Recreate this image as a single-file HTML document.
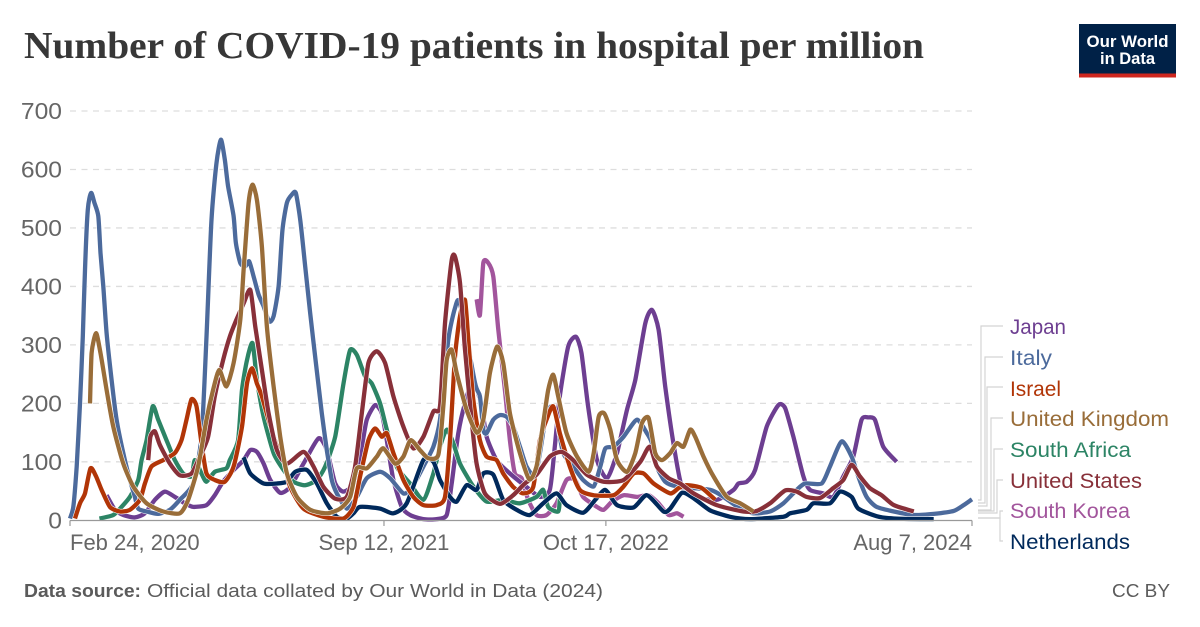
<!DOCTYPE html>
<html lang="en">
<head>
<meta charset="utf-8">
<title>Number of COVID-19 patients in hospital per million</title>
<style>
html,body{margin:0;padding:0;background:#fff;}
svg{display:block;}
text{font-family:"Liberation Sans",sans-serif;}
</style>
</head>
<body>
<svg id="chart" xmlns="http://www.w3.org/2000/svg" width="1200" height="627" viewBox="0 0 1200 627">
  <rect x="0" y="0" width="1200" height="627" fill="#fff"/>
  <text x="24" y="58" font-size="38" font-weight="700" fill="#373737" style="font-family:'Liberation Serif',serif" textLength="900" lengthAdjust="spacingAndGlyphs">Number of COVID-19 patients in hospital per million</text>
  <g>
    <rect x="1079" y="24" width="97" height="53.5" fill="#002147"/>
    <rect x="1079" y="73.5" width="97" height="4" fill="#ce261e"/>
    <text x="1127.5" y="47" text-anchor="middle" font-size="17" font-weight="700" fill="#fff" textLength="82" lengthAdjust="spacingAndGlyphs">Our World</text>
    <text x="1127.5" y="64" text-anchor="middle" font-size="17" font-weight="700" fill="#fff" textLength="55" lengthAdjust="spacingAndGlyphs">in Data</text>
  </g>
  <g id="grid"></g>
  <g id="yticks"></g>
  <g id="series"></g>
  <g id="xaxis"></g>
  <g fill="none" stroke="#d4d4d4" stroke-width="1.2">
    <path d="M1003 326H981V500H978"/>
    <path d="M1003 357H985V503H978"/>
    <path d="M1003 387H987V506H978"/>
    <path d="M1003 418H991V510H978"/>
    <path d="M1003 449H994V511H978"/>
    <path d="M1003 480H997V513H978"/>
    <path d="M1003 511H1000V518H978"/>
    <path d="M1003 541H1000V518H978"/>
  </g>
  <g font-size="21.5">
    <text x="1010" y="334" fill="#6D3E91" textLength="56" lengthAdjust="spacingAndGlyphs">Japan</text>
    <text x="1010" y="365" fill="#4C6A9C" textLength="42" lengthAdjust="spacingAndGlyphs">Italy</text>
    <text x="1010" y="396" fill="#B13507" textLength="51" lengthAdjust="spacingAndGlyphs">Israel</text>
    <text x="1010" y="426" fill="#996D39" textLength="159" lengthAdjust="spacingAndGlyphs">United Kingdom</text>
    <text x="1010" y="457" fill="#2C8465" textLength="121" lengthAdjust="spacingAndGlyphs">South Africa</text>
    <text x="1010" y="488" fill="#883039" textLength="132" lengthAdjust="spacingAndGlyphs">United States</text>
    <text x="1010" y="518" fill="#A2559C" textLength="120" lengthAdjust="spacingAndGlyphs">South Korea</text>
    <text x="1010" y="549" fill="#00295B" textLength="120" lengthAdjust="spacingAndGlyphs">Netherlands</text>
  </g>
  <text x="24" y="597" font-size="18.5" font-weight="700" fill="#5b5b5b" textLength="117" lengthAdjust="spacingAndGlyphs">Data source:</text>
  <text x="147" y="597" font-size="18.5" fill="#5b5b5b" textLength="456" lengthAdjust="spacingAndGlyphs">Official data collated by Our World in Data (2024)</text>
  <text x="1170" y="597" font-size="18.5" fill="#5b5b5b" text-anchor="end" textLength="58" lengthAdjust="spacingAndGlyphs">CC BY</text>
</svg>
<script>
// Days since Feb 24, 2020 and patients in hospital per million.
const yTicks = [0,100,200,300,400,500,600,700];
const xTickDays = [0,566,966,1626];
const xTickLabels = ["Feb 24, 2020","Sep 12, 2021","Oct 17, 2022","Aug 7, 2024"];

const southKoreaDays = [733,739,745,754,763,772,784,793,802,814,826,841,859,877,895,911,925,950,962,977,998,1022,1043,1061,1079,1094,1106];
const southKoreaValues = [378,351,440,440,417,326,223,137,80,72,35,9,9,29,69,69,40,23,18,32,43,40,43,29,9,12,6];

const japanDays = [66,81,96,117,135,153,171,189,207,222,246,261,276,295,313,325,337,349,361,379,397,421,448,463,478,493,511,526,535,550,562,571,583,598,613,637,661,679,688,700,712,727,742,751,769,793,823,847,865,874,883,898,912,922,934,950,968,986,1004,1019,1037,1049,1061,1073,1088,1103,1124,1166,1196,1205,1220,1235,1256,1277,1289,1304,1322,1334,1358,1376,1394,1412,1427,1439,1451,1466,1490];
const japanValues = [43,18,9,5,12,35,49,40,29,23,26,43,66,86,103,120,117,97,69,47,57,97,140,120,63,49,63,126,172,197,183,137,69,23,9,2,2,9,63,149,200,240,195,143,103,80,57,40,52,126,212,297,314,286,195,103,72,115,189,240,337,360,326,229,130,57,40,35,52,63,66,86,160,197,192,143,75,52,46,40,75,109,172,176,172,126,100];

const southAfricaDays = [53,78,93,108,123,129,138,149,159,174,189,204,219,225,237,246,261,282,288,303,310,319,329,337,349,367,385,403,424,445,460,478,493,505,517,532,544,559,571,589,613,637,655,667,679,691,703,727,751,781,811,841,853,862,880,883];
const southAfricaValues = [3,9,23,40,69,103,137,195,172,137,103,80,75,103,80,66,83,89,103,137,223,274,303,240,177,115,86,66,60,69,92,143,234,291,283,246,234,200,155,92,63,35,80,126,155,132,97,58,32,35,29,40,52,23,15,40];

const italyDays = [0,6,12,18,23,27,32,38,44,51,55,60,66,75,84,96,108,117,123,138,159,180,198,222,237,246,255,264,272,279,285,295,299,307,316,323,331,340,349,359,367,376,383,391,400,407,415,424,433,444,454,463,472,481,499,517,535,559,577,601,616,637,655,667,682,694,703,730,739,745,751,763,775,787,799,811,823,838,847,859,871,880,889,907,925,944,956,965,980,998,1022,1040,1049,1058,1073,1094,1154,1178,1208,1232,1262,1286,1310,1325,1355,1370,1391,1409,1421,1436,1454,1485,1521,1557,1593,1611,1626];
const italyValues = [3,23,92,200,314,428,531,560,543,520,457,400,320,240,172,115,69,40,20,15,11,18,35,63,143,314,514,611,651,617,571,520,474,440,434,443,417,386,366,340,349,400,497,543,557,560,514,434,354,263,183,120,69,46,20,40,72,83,72,46,55,92,126,172,309,363,371,235,212,155,149,172,180,177,160,126,92,75,115,183,195,160,115,92,69,58,92,123,126,143,172,149,132,92,66,58,52,40,20,12,15,29,52,63,63,92,135,109,75,40,23,15,9,11,16,26,36];

const netherlandsDays = [313,325,349,373,391,406,427,445,463,481,499,511,523,559,583,607,637,655,667,685,697,715,733,745,763,781,805,829,853,877,895,925,947,965,986,1016,1040,1070,1082,1103,1124,1154,1190,1226,1286,1298,1328,1340,1370,1388,1409,1421,1454,1485,1557];
const netherlandsValues = [108,80,63,63,66,83,86,63,29,6,3,12,23,20,12,29,103,100,69,40,32,60,52,80,78,35,18,9,29,46,26,13,35,52,26,22,43,15,20,47,38,17,6,2,6,12,18,29,29,49,40,20,7,3,2];

const israelDays = [9,18,27,37,47,57,72,90,108,126,135,147,168,189,201,210,219,228,237,246,261,279,295,310,319,328,337,346,358,373,385,397,421,457,493,511,523,538,550,562,571,583,601,619,637,661,676,685,694,703,712,718,727,739,751,769,781,799,817,835,847,859,871,883,901,919,944,980,998,1016,1034,1052,1082,1097,1112,1139,1163];
const israelValues = [3,29,46,89,75,52,23,15,18,35,63,92,103,115,137,172,207,195,132,80,69,66,92,160,234,260,234,212,172,126,103,57,20,6,3,23,75,137,157,143,149,115,69,40,26,26,40,137,280,349,377,309,206,137,109,103,80,57,46,57,137,172,195,149,92,52,43,43,58,80,80,63,46,55,60,55,35];

const unitedStatesDays = [141,145,153,162,180,198,219,234,249,261,276,288,300,313,325,334,346,358,373,391,421,439,457,478,499,514,526,538,553,568,583,601,619,637,655,667,676,688,694,703,712,724,733,748,775,799,820,841,865,886,907,932,962,998,1028,1045,1058,1079,1100,1124,1166,1214,1238,1262,1289,1310,1328,1352,1376,1394,1409,1424,1442,1463,1485,1521];
const unitedStatesValues = [103,143,152,129,97,77,80,109,143,212,274,314,343,371,394,331,257,183,120,97,117,92,57,37,40,92,183,269,289,269,212,160,123,143,186,195,337,445,451,406,292,172,97,46,28,43,63,78,109,117,103,78,66,69,100,126,92,72,63,46,26,15,16,29,51,49,40,38,55,69,95,75,55,43,26,15];

const unitedKingdomDays = [36,39,47,55,66,78,96,114,138,168,198,213,231,246,258,269,282,295,307,313,322,329,337,346,355,367,379,391,409,433,463,487,505,517,535,553,565,586,601,614,631,646,664,673,679,688,697,715,733,745,757,770,781,793,811,828,841,853,862,871,880,895,914,935,944,953,963,974,986,1004,1019,1031,1043,1055,1067,1082,1094,1106,1118,1127,1142,1160,1184,1208,1232];
const unitedKingdomValues = [200,286,320,286,223,160,97,58,29,15,12,35,92,172,223,257,229,269,343,428,543,574,548,468,331,229,143,80,40,18,12,20,40,89,89,109,123,97,109,137,120,106,112,195,274,292,252,189,150,172,252,297,269,183,115,70,92,166,223,249,212,149,109,83,115,177,183,155,103,83,115,166,175,115,103,115,132,126,155,143,109,75,40,29,15];

const seriesNames = ["south-korea","japan","south-africa","italy","netherlands","israel","united-states","united-kingdom"];
const seriesColors = ["#A2559C","#6D3E91","#2C8465","#4C6A9C","#00295B","#B13507","#883039","#996D39"];
const seriesDays = [southKoreaDays,japanDays,southAfricaDays,italyDays,netherlandsDays,israelDays,unitedStatesDays,unitedKingdomDays];
const seriesValues = [southKoreaValues,japanValues,southAfricaValues,italyValues,netherlandsValues,israelValues,unitedStatesValues,unitedKingdomValues];

const NS = "http://www.w3.org/2000/svg";
const xScale = d => 70 + d * (902 / 1626);
const yScale = v => 520.3 - v * (409.3 / 700);

// Smooth path through the mapped points (Catmull-Rom to Bezier, gentle tension).
function smoothPath(days, values) {
  const pts = days.map(function (day, j) {
    return [xScale(day), yScale(values[j])];
  });
  const clampY = y => Math.min(y, 520.3);
  let d = "M" + pts[0][0].toFixed(1) + " " + pts[0][1].toFixed(1);
  for (let i = 0; i < pts.length - 1; i++) {
    const p0 = pts[Math.max(i - 1, 0)];
    const p1 = pts[i];
    const p2 = pts[i + 1];
    const p3 = pts[Math.min(i + 2, pts.length - 1)];
    const c1x = p1[0] + (p2[0] - p0[0]) / 9;
    const c1y = clampY(p1[1] + (p2[1] - p0[1]) / 9);
    const c2x = p2[0] - (p3[0] - p1[0]) / 9;
    const c2y = clampY(p2[1] - (p3[1] - p1[1]) / 9);
    d += "C" + c1x.toFixed(1) + " " + c1y.toFixed(1) + " " + c2x.toFixed(1) + " " + c2y.toFixed(1) + " " + p2[0].toFixed(1) + " " + p2[1].toFixed(1);
  }
  return d;
}

const gridG = document.getElementById("grid");
const yG = document.getElementById("yticks");
yTicks.forEach(function (t) {
  const y = yScale(t);
  if (t > 0) {
    const l = document.createElementNS(NS, "line");
    
    
    l.setAttribute("x1", 70);
    l.setAttribute("x2", 972);
    l.setAttribute("y1", y);
    l.setAttribute("y2", y);
    l.setAttribute("stroke", "#dddddd");
    l.setAttribute("stroke-width", "1.3");
    l.setAttribute("stroke-dasharray", "6,5.5");
    gridG.appendChild(l);
  }
  const txt = document.createElementNS(NS, "text");
  
  
  txt.setAttribute("x", 62);
  txt.setAttribute("y", y + 8);
  txt.setAttribute("text-anchor", "end");
  txt.setAttribute("font-size", "23");
  txt.setAttribute("fill", "#666");
  txt.textContent = t;
  yG.appendChild(txt);
  txt.setAttribute("textLength", String(t).length * 13.7);
  txt.setAttribute("lengthAdjust", "spacingAndGlyphs");
});

const seriesG = document.getElementById("series");
seriesNames.forEach(function (name, i) {
  const d = smoothPath(seriesDays[i], seriesValues[i]);
  const halo = document.createElementNS(NS, "path");
  
  
  halo.setAttribute("d", d);
  halo.setAttribute("fill", "none");
  halo.setAttribute("stroke", "#fff");
  halo.setAttribute("stroke-width", "5.4");
  halo.setAttribute("stroke-linejoin", "round");
  seriesG.appendChild(halo);
  const p = document.createElementNS(NS, "path");
  
  
  p.setAttribute("data-series", name);
  p.setAttribute("d", d);
  p.setAttribute("fill", "none");
  p.setAttribute("stroke", seriesColors[i]);
  p.setAttribute("stroke-width", "4.3");
  p.setAttribute("stroke-linejoin", "round");
  seriesG.appendChild(p);
});

const xG = document.getElementById("xaxis");
const axis = document.createElementNS(NS, "line");


axis.setAttribute("x1", 70);
axis.setAttribute("x2", 972);
axis.setAttribute("y1", 520.5);
axis.setAttribute("y2", 520.5);
axis.setAttribute("stroke", "#999");
axis.setAttribute("stroke-width", "1.2");
xG.appendChild(axis);
xTickDays.forEach(function (day, i) {
  const x = xScale(day);
  const tick = document.createElementNS(NS, "line");
  
  
  tick.setAttribute("x1", x);
  tick.setAttribute("x2", x);
  tick.setAttribute("y1", 520.5);
  tick.setAttribute("y2", 526);
  tick.setAttribute("stroke", "#999");
  tick.setAttribute("stroke-width", "1.2");
  xG.appendChild(tick);
  const lab = document.createElementNS(NS, "text");
  
  
  lab.setAttribute("y", 550);
  lab.setAttribute("font-size", "22");
  lab.setAttribute("fill", "#666");
  lab.setAttribute("x", x);
  lab.setAttribute("text-anchor", i === 0 ? "start" : (i === xTickDays.length - 1 ? "end" : "middle"));
  lab.textContent = xTickLabels[i];
  xG.appendChild(lab);
});
</script>
</body>
</html>
